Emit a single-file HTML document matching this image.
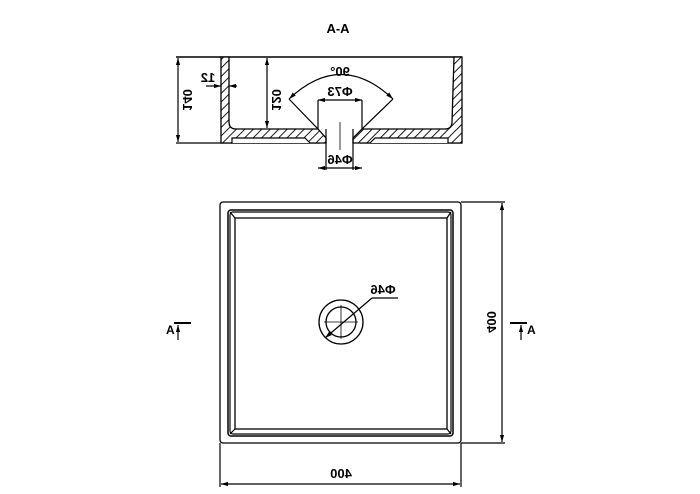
<!DOCTYPE html>
<html><head><meta charset="utf-8"><style>
html,body{margin:0;padding:0;background:#fff;}
svg{display:block;}
text{font-family:"Liberation Sans",sans-serif;fill:#000;font-weight:bold;}
</style></head><body>
<svg width="700" height="494" viewBox="0 0 700 494" xmlns="http://www.w3.org/2000/svg">
<defs>
<pattern id="h" width="6" height="6" patternUnits="userSpaceOnUse" patternTransform="rotate(45)">
<rect width="6" height="6" fill="#fff"/><line x1="0" y1="0" x2="0" y2="6" stroke="#000" stroke-width="1.8"/>
</pattern>
<marker id="a" viewBox="0 0 10 10" refX="10" refY="5" markerWidth="6" markerHeight="6" orient="auto-start-reverse"><path d="M0,2 L10,5 L0,8 z" fill="#000"/></marker>
</defs>
<g stroke="#000" fill="none" stroke-width="1.2">
<text x="338" y="33" font-size="13" text-anchor="middle" stroke="none">A-A</text>
<line x1="176" y1="57" x2="462" y2="57" stroke-width="1.5"/>
<line x1="176" y1="143" x2="320" y2="143"/>
<line x1="360" y1="143" x2="462" y2="143"/>
<path d="M221,57 L229,57 L229,122 Q229,129 236,129 L318,129 L326,138 L326,143 L221,143 Z" fill="url(#h)" stroke-width="1.3"/>
<path d="M462,57 L454,57 L452,122 Q452,129 445,129 L362,129 L353,138 L353,143 L462,143 Z" fill="url(#h)" stroke-width="1.3"/>
<path d="M232,143 L232,138 L305,138 L310,143" fill="#fff"/>
<path d="M448,143 L448,138 L375,138 L370,143" fill="#fff"/>
<line x1="326" y1="129" x2="326" y2="170"/>
<line x1="353" y1="129" x2="353" y2="170"/>
<line x1="340" y1="122" x2="340" y2="150" stroke-width="0.8"/>
<line x1="318" y1="168" x2="362" y2="168" marker-start="url(#a)" marker-end="url(#a)"/>
<text transform="translate(340,164) scale(-1,1)" font-size="13" text-anchor="middle" stroke="none">Φ46</text>
<line x1="289" y1="99" x2="318" y2="129"/>
<line x1="393" y1="99" x2="362" y2="129"/>
<path d="M289,99 Q341,50 393,99" marker-start="url(#a)" marker-end="url(#a)"/>
<text transform="translate(340,76) scale(-1,1)" font-size="13" text-anchor="middle" stroke="none">90°</text>
<line x1="318" y1="100" x2="362" y2="100" marker-start="url(#a)" marker-end="url(#a)"/>
<line x1="318" y1="100" x2="318" y2="129"/>
<line x1="362" y1="100" x2="362" y2="129"/>
<text transform="translate(340,96) scale(-1,1)" font-size="13" text-anchor="middle" stroke="none">Φ73</text>
<line x1="178" y1="58" x2="178" y2="142" marker-start="url(#a)" marker-end="url(#a)"/>
<text transform="translate(183,100) scale(-1,1) rotate(-90)" font-size="13" text-anchor="middle" stroke="none">140</text>
<line x1="267" y1="58" x2="267" y2="128" marker-start="url(#a)" marker-end="url(#a)"/>
<text transform="translate(272,100) scale(-1,1) rotate(-90)" font-size="13" text-anchor="middle" stroke="none">120</text>
<line x1="206" y1="86" x2="221" y2="86" marker-end="url(#a)"/>
<line x1="237" y1="86" x2="229" y2="86" marker-end="url(#a)"/>
<text transform="translate(208,82) scale(-1,1)" font-size="13" text-anchor="middle" stroke="none">12</text>

<rect x="220" y="202" width="241" height="241" rx="3" stroke-width="1.3"/>
<rect x="228" y="210" width="225" height="226" rx="3" stroke-width="1.5"/>
<rect x="230" y="212" width="221" height="222" rx="3"/>
<rect x="235" y="218" width="212" height="211" stroke-width="1.3"/>
<line x1="230" y1="212" x2="235" y2="218"/><line x1="451" y1="212" x2="447" y2="218"/>
<line x1="230" y1="434" x2="235" y2="429"/><line x1="451" y1="434" x2="447" y2="429"/>
<circle cx="341" cy="322" r="22" stroke-width="1.3"/>
<circle cx="341" cy="322" r="15" stroke-width="1.3"/>
<line x1="324" y1="322" x2="358" y2="322" stroke-width="0.8"/>
<line x1="341" y1="305" x2="341" y2="339" stroke-width="0.8"/>
<line x1="325" y1="338" x2="372" y2="298" marker-start="url(#a)"/>
<line x1="372" y1="298" x2="398" y2="298"/>
<text transform="translate(383,294) scale(-1,1)" font-size="13" text-anchor="middle" stroke="none">Φ46</text>
<line x1="461" y1="202" x2="505" y2="202"/>
<line x1="461" y1="443" x2="505" y2="443"/>
<line x1="502" y1="203" x2="502" y2="442" marker-start="url(#a)" marker-end="url(#a)"/>
<text transform="translate(487,322) scale(-1,1) rotate(-90)" font-size="13" text-anchor="middle" stroke="none">400</text>
<line x1="220" y1="443" x2="220" y2="487"/>
<line x1="461" y1="443" x2="461" y2="487"/>
<line x1="221" y1="484" x2="460" y2="484" marker-start="url(#a)" marker-end="url(#a)"/>
<text transform="translate(341,478) scale(-1,1)" font-size="13" text-anchor="middle" stroke="none">400</text>
<line x1="174" y1="323" x2="191" y2="323" stroke-width="2"/>
<line x1="178" y1="340" x2="178" y2="325" marker-end="url(#a)"/>
<text x="166" y="334" font-size="12" stroke="none">A</text>
<line x1="510" y1="323" x2="527" y2="323" stroke-width="2"/>
<line x1="521" y1="340" x2="521" y2="325" marker-end="url(#a)"/>
<text x="527" y="334" font-size="12" stroke="none">A</text>
</g>
</svg>
</body></html>
